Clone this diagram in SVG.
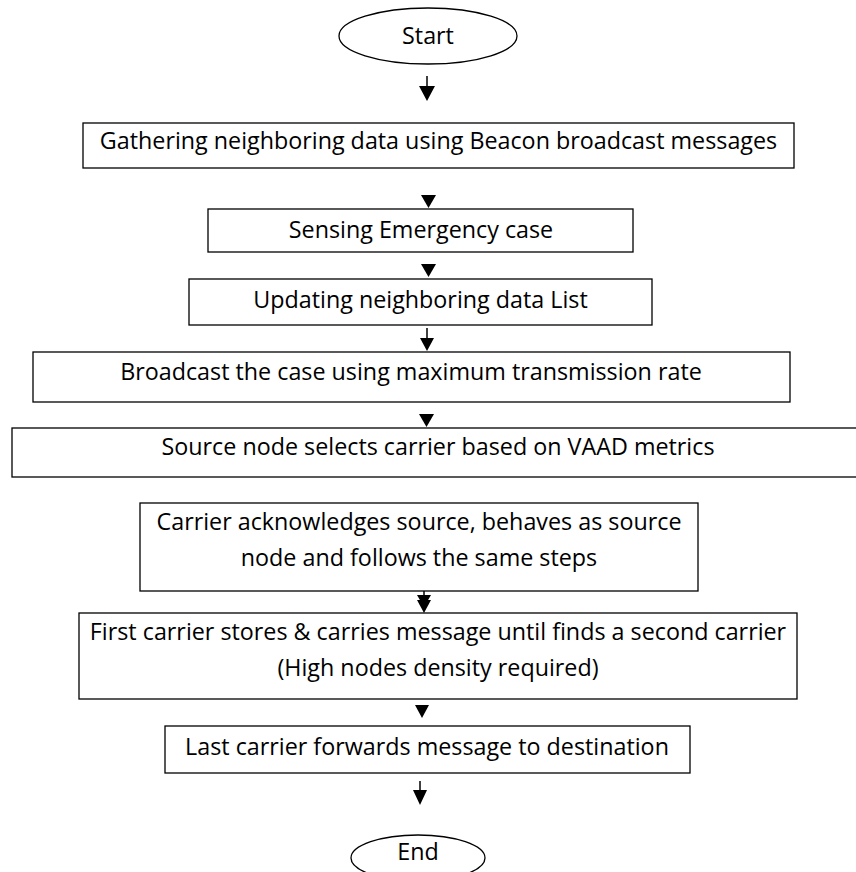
<svg xmlns="http://www.w3.org/2000/svg" width="856" height="872" viewBox="0 0 856 872">
<style>
.n{fill:#fff;stroke:#000;stroke-width:1.3}
.t{font-family:"Open Sans","Noto Sans",sans-serif;font-size:23.3px;fill:#000;text-anchor:middle}
.c{stroke:#000;stroke-width:1.5;fill:none}
.h{fill:#000;stroke:none}
</style>
<rect width="856" height="872" fill="#fff"/>
<g id="start"><ellipse class="n" cx="428" cy="36" rx="89" ry="28"/><text class="t" x="428" y="44">Start</text></g>
<g id="gather"><rect class="n" x="83" y="123" width="711" height="45"/><text class="t" x="438.5" y="149">Gathering neighboring data using Beacon broadcast messages</text></g>
<g id="sensing"><rect class="n" x="208" y="209" width="425" height="43"/><text class="t" x="421" y="238">Sensing Emergency case</text></g>
<g id="updating"><rect class="n" x="189" y="279" width="463" height="46"/><text class="t" x="420.5" y="308">Updating neighboring data List</text></g>
<g id="broadcast"><rect class="n" x="33" y="352" width="757" height="50"/><text class="t" x="411" y="380">Broadcast the case using maximum transmission rate</text></g>
<g id="select"><rect class="n" x="12" y="428" width="852" height="49"/><text class="t" x="438" y="455">Source node selects carrier based on VAAD metrics</text></g>
<g id="ack"><rect class="n" x="140" y="503" width="558" height="88"/><text class="t" x="419" y="530">Carrier acknowledges source, behaves as source</text><text class="t" x="419" y="566">node and follows the same steps</text></g>
<g id="store"><rect class="n" x="79" y="613" width="718" height="86"/><text class="t" x="438" y="640">First carrier stores &amp; carries message until finds a second carrier</text><text class="t" x="438" y="676">(High nodes density required)</text></g>
<g id="last"><rect class="n" x="165" y="726" width="525" height="47"/><text class="t" x="427" y="755">Last carrier forwards message to destination</text></g>
<g id="end"><ellipse class="n" cx="418" cy="858" rx="67" ry="23"/><text class="t" x="418" y="860">End</text></g>
<g id="connectors">
<line class="c" x1="427" y1="76" x2="427" y2="88"/><polygon class="h" points="419,86 435,86 427,101"/>
<polygon class="h" points="421,195 436,195 428.5,208"/>
<polygon class="h" points="421,264 436,264 428.5,277"/>
<line class="c" x1="427" y1="328" x2="427" y2="339"/><polygon class="h" points="420,338 434,338 427,351"/>
<polygon class="h" points="419,414 434,414 426.5,427"/>
<line class="c" x1="424" y1="591" x2="424" y2="598"/><polygon class="h" points="417,595 431,595 424,607"/><polygon class="h" points="417,600 431,600 424,613"/>
<polygon class="h" points="415,705 429,705 422,718"/>
<line class="c" x1="420" y1="781" x2="420" y2="792"/><polygon class="h" points="413,790 427,790 420,805"/>
</g>
</svg>
